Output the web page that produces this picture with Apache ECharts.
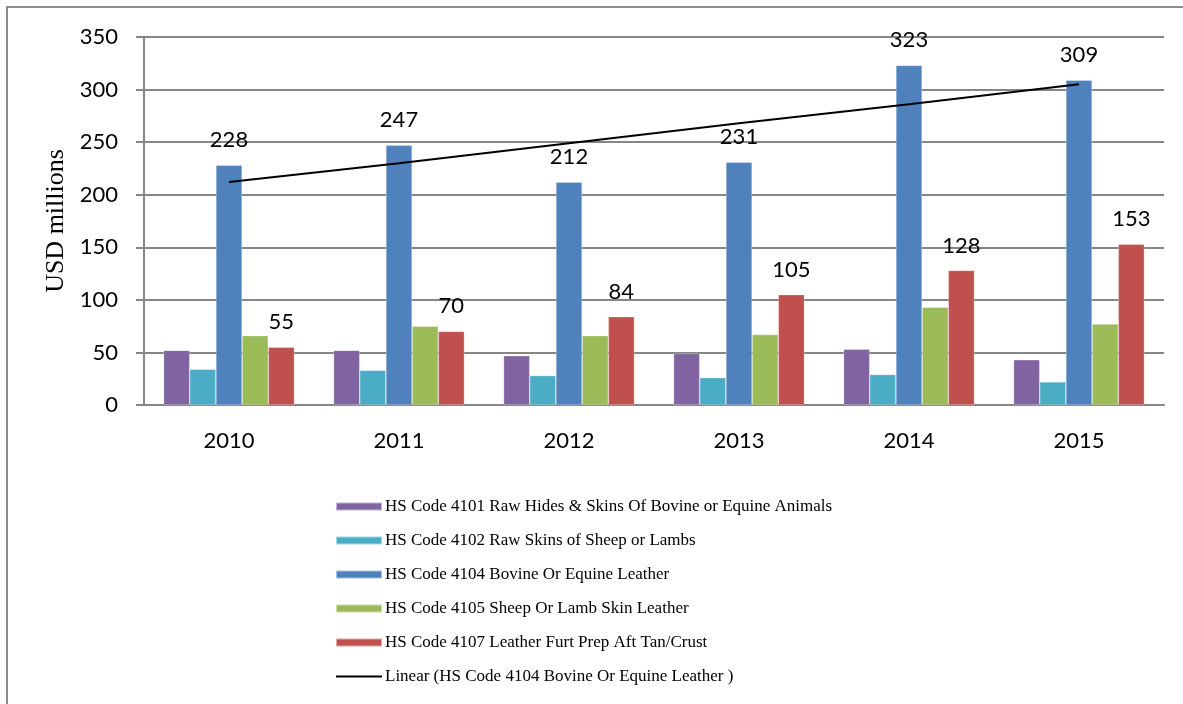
<!DOCTYPE html>
<html>
<head>
<meta charset="utf-8">
<style>
  html, body { margin: 0; padding: 0; background: #fff; }
  #chart { width: 1183px; height: 704px; }
</style>
<script src="https://cdn.jsdelivr.net/npm/echarts@6/dist/echarts.min.js"></script>
</head>
<body>
<div id="chart"></div>
<script>
const years = ['2010', '2011', '2012', '2013', '2014', '2015'];

const hs4101 = [52, 52, 47, 49, 53, 43];
const hs4102 = [34, 33, 28, 26, 29, 22];
const hs4104 = [228, 247, 212, 231, 323, 309];
const hs4105 = [66, 75, 66, 67, 93, 77];
const hs4107 = [55, 70, 84, 105, 128, 153];
// trend line at each year
const trend4104 = [212, 230, 249, 268, 286, 305];

const names = [
  'HS Code 4101 Raw Hides & Skins Of Bovine or Equine Animals',
  'HS Code 4102 Raw Skins of Sheep or Lambs',
  'HS Code 4104 Bovine Or Equine Leather',
  'HS Code 4105 Sheep Or Lamb Skin Leather',
  'HS Code 4107 Leather Furt Prep Aft Tan/Crust',
  'Linear (HS Code 4104 Bovine Or Equine Leather )'
];
const colors = ['#8064A2', '#4BACC6', '#4F81BD', '#9BBB59', '#C0504D', '#000000'];

const sansFont = 'Lato, "Open Sans", sans-serif';
const serifFont = '"Liberation Serif", "Times New Roman", serif';

const labelStyle = {
  show: true,
  position: 'top',
  distance: 14,
  color: '#000',
  fontSize: 22,
  fontFamily: sansFont
};

function bar(i, data, withLabel) {
  return {
    name: names[i],
    type: 'bar',
    data: data,
    barGap: '0%',
    barCategoryGap: '23%',
    itemStyle: { color: colors[i], borderColor: 'rgba(255,255,255,0.5)', borderWidth: 0.6 },
    label: withLabel ? labelStyle : { show: false },
    z: 2
  };
}

let myChart = echarts.init(document.getElementById('chart'));
var option = {
  animation: false,
  color: colors,
  grid: { left: 144, right: 19, top: 37, bottom: 299, containLabel: false },
  legend: {
    orient: 'vertical',
    left: 335,
    top: 498,
    padding: 0,
    itemWidth: 46,
    itemHeight: 8,
    itemGap: 17,
    symbolKeepAspect: true,
    textStyle: { fontFamily: serifFont, fontSize: 17, color: '#000', padding: [0, 0, 0, -2] },
    data: names.map((n, i) => i === 5
      ? { name: n, icon: 'path://M0,0H46V2H0Z', itemStyle: { color: '#000' } }
      : { name: n, icon: 'rect' })
  },
  xAxis: {
    type: 'category',
    data: years,
    axisLine: { lineStyle: { color: '#868686', width: 2 } },
    axisTick: { show: false },
    axisLabel: { margin: 25, fontSize: 22, color: '#000', fontFamily: sansFont }
  },
  yAxis: {
    type: 'value',
    min: 0,
    max: 350,
    interval: 50,
    name: 'USD millions',
    nameLocation: 'middle',
    nameGap: 74,
    nameTextStyle: { fontFamily: serifFont, fontSize: 26, color: '#000' },
    axisLine: { show: true, lineStyle: { color: '#868686', width: 2 } },
    axisTick: { show: true, length: 8, inside: false, lineStyle: { color: '#868686', width: 2 } },
    axisLabel: { margin: 26, fontSize: 22, color: '#000', fontFamily: sansFont },
    splitLine: { lineStyle: { color: '#868686', width: 2 } }
  },
  graphic: [{
    type: 'polyline',
    shape: { points: [[7, 704], [7, 7], [1183, 7]] },
    style: { stroke: '#8c8c8c', lineWidth: 2, fill: null },
    silent: true
  }],
  series: [
    bar(0, hs4101, false),
    bar(1, hs4102, false),
    bar(2, hs4104, true),
    bar(3, hs4105, false),
    bar(4, hs4107, true),
    {
      name: names[5],
      type: 'line',
      data: trend4104,
      symbol: 'none',
      lineStyle: { color: '#000', width: 2 },
      itemStyle: { color: '#000' },
      z: 5
    }
  ]
};
myChart.setOption(option);
window.addEventListener('resize', function () {
  myChart.resize();
});
</script>
</body>
</html>
